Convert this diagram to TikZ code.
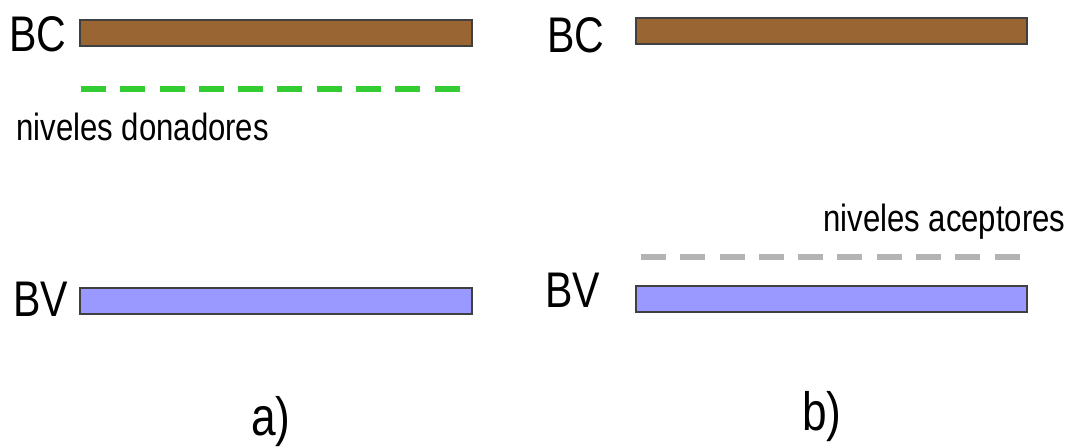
\documentclass[tikz,border=0pt]{standalone}
\usepackage{fontspec}
\setmainfont{Liberation Sans}[FakeStretch=0.82]
\definecolor{bcbrown}{RGB}{153,102,51}
\definecolor{bvblue}{RGB}{153,153,255}
\definecolor{dongreen}{RGB}{51,204,51}
\definecolor{acgray}{RGB}{179,179,179}
\begin{document}
\begin{tikzpicture}[x=0.02cm,y=-0.02cm,
    every node/.style={inner sep=0pt,anchor=base west},
    band/.style={draw=black!75,line width=0.8pt},
    level/.style={line width=3.4pt,dash pattern=on 0.5cm off 0.286cm},
    bandname/.style={font=\fontsize{28.5}{30}\selectfont},
    levelname/.style={font=\fontsize{21.6}{24}\selectfont},
    panel/.style={font=\fontsize{30.7}{33}\selectfont}]
    \useasboundingbox (0,0) rectangle (1073,447);
    % a) donadores
    \filldraw[band,fill=bcbrown] (80,20) rectangle (472,46);
    \filldraw[band,fill=bvblue] (80,288) rectangle (472,314);
    \draw[level,dongreen] (81,89) -- (466,89);
    \node[bandname] (bcA) at (9,51) {BC};
    \node[bandname] (bvA) at (13,316) {BV};
    \node[levelname] (donA) at (16,140) {niveles donadores};
    \node[panel] (labA) at (251,435) {a)};
    % b) aceptores
    \filldraw[band,fill=bcbrown] (636,18) rectangle (1027,44);
    \filldraw[band,fill=bvblue] (636,286) rectangle (1027,312);
    \draw[level,acgray] (641,257) -- (1026,257);
    \node[bandname] (bcB) at (547,52) {BC};
    \node[bandname] (bvB) at (545,307) {BV};
    \node[levelname] (acB) at (823,231) {niveles aceptores};
    \node[panel] (labB) at (802,430) {b)};
\end{tikzpicture}
\end{document}
